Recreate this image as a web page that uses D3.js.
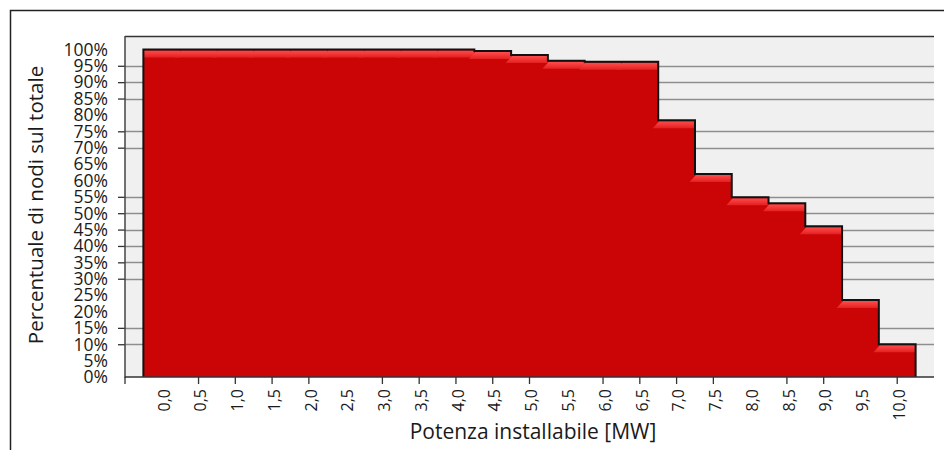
<!DOCTYPE html>
<html>
<head>
<meta charset="utf-8">
<script src="https://cdn.jsdelivr.net/npm/d3@7"></script>
<style>
  html, body { margin: 0; padding: 0; background: #ffffff; }
  svg { display: block; }
  text { font-family: "Open Sans", "DejaVu Sans", sans-serif; fill: #1a1a1a; }
</style>
</head>
<body>
<svg id="chart" width="944" height="450"></svg>
<script>
// ---- data ----
const categories = ["0,0","0,5","1,0","1,5","2,0","2,5","3,0","3,5","4,0","4,5","5,0",
                    "5,5","6,0","6,5","7,0","7,5","8,0","8,5","9,0","9,5","10,0"];
const values = [100,100,100,100,100,100,100,100,100,99.5,98.3,
                96.5,96.2,96.2,78.4,62.0,54.9,53.0,46.0,23.5,10.0];
const yTickValues = [0,5,10,15,20,25,30,35,40,45,50,55,60,65,70,75,80,85,90,95,100];
const yGridValues = [10,15,30,35,40,45,50,55,70,75,85,90,95];
const xTickMarks = ["0,5","1,0","1,5","2,0","3,0","3,5","4,0","4,5","5,0","6,0","6,5",
                    "7,0","7,5","8,5","9,0","10,0"];
const yTitle = "Percentuale di nodi sul totale";
const xTitle = "Potenza installabile [MW]";

// ---- layout ----
const svg = d3.select("#chart");
const pLeft = 125, pRight = 934, pTop = 36, pBottom = 377;

// outer frame
svg.append("rect").attr("x", 10.5).attr("y", 10.5).attr("width", 1000).attr("height", 600)
  .attr("fill", "#fff").attr("stroke", "#222").attr("stroke-width", 1.5);

// plot background
svg.append("rect").attr("x", pLeft).attr("y", pTop).attr("width", pRight - pLeft).attr("height", pBottom - pTop)
  .attr("fill", "#f0f0f0");
svg.append("line").attr("x1", pLeft).attr("x2", pRight).attr("y1", pTop + 0.5).attr("y2", pTop + 0.5)
  .attr("stroke", "#333").attr("stroke-width", 1.5);

const x = d3.scaleBand().domain(categories).range([pLeft, pRight]).paddingInner(0).paddingOuter(0.5);
const y = d3.scaleLinear().domain([0, 100]).range([pBottom, 49.4]);

// gridlines
svg.append("g").selectAll("line").data(yGridValues).join("line")
  .attr("x1", pLeft).attr("x2", pRight)
  .attr("y1", d => Math.round(y(d)) + 0.5).attr("y2", d => Math.round(y(d)) + 0.5)
  .attr("stroke", "#8e8e8e").attr("stroke-width", 1.5);

// y axis
const yAxis = d3.axisLeft(y).tickValues(yGridValues).tickSize(7).tickFormat("");
const gy = svg.append("g").attr("transform", `translate(${pLeft},0)`).call(yAxis);
gy.select(".domain").remove();
gy.selectAll(".tick line").attr("stroke", "#333").attr("stroke-width", 1.3);
svg.append("line").attr("x1", pLeft).attr("x2", pLeft).attr("y1", pTop).attr("y2", pBottom + 1)
  .attr("stroke", "#444").attr("stroke-width", 1.5);

svg.append("g").selectAll("text").data(yTickValues).join("text")
  .attr("x", 108).attr("y", d => y(d)).attr("dy", "0.36em")
  .attr("text-anchor", "end").attr("font-size", 17.5)
  .text(d => d + "%");

// defs: gradient for bevel highlight
const defs = svg.append("defs");
const grad = defs.append("linearGradient").attr("id", "hl").attr("x1", 0).attr("y1", 0).attr("x2", 0).attr("y2", 1);
grad.append("stop").attr("offset", "0%").attr("stop-color", "#ff4c4c");
grad.append("stop").attr("offset", "100%").attr("stop-color", "#e42020");

// bars
const data = categories.map((c, i) => ({ c, v: values[i] }));
const bw = x.bandwidth();

// step outline path (shared by fill underlay, clip and border)
let pathD = `M${x(categories[0])},${pBottom}`;
data.forEach(d => {
  const x0 = x(d.c), x1 = x0 + bw;
  pathD += ` L${x0},${y(d.v)} L${x1},${y(d.v)}`;
});
pathD += ` L${x(categories[categories.length - 1]) + bw},${pBottom}`;

defs.append("clipPath").attr("id", "barsClip").append("path").attr("d", pathD + " Z");

svg.append("path").attr("d", pathD + " Z").attr("fill", "#cb0505");

svg.append("g").selectAll("rect").data(data).join("rect")
  .attr("x", d => x(d.c)).attr("y", d => y(d.v))
  .attr("width", bw + 0.6).attr("height", d => pBottom - y(d.v))
  .attr("fill", "#cb0505").attr("shape-rendering", "crispEdges");

// bevel highlights
svg.append("g").attr("clip-path", "url(#barsClip)")
  .selectAll("path").data(data).join("path")
  .attr("d", d => {
    const x0 = x(d.c), x1 = x0 + bw, yt = y(d.v) + 1;
    return `M${x0 - 5.5},${yt + 7} L${x0 + 1},${yt} L${x1},${yt} L${x1},${yt + 7} Z`;
  })
  .attr("fill", "url(#hl)");

svg.append("path").attr("d", pathD).attr("fill", "none")
  .attr("stroke", "#111").attr("stroke-width", 2).attr("stroke-linejoin", "miter");

// x axis
svg.append("line").attr("x1", pLeft).attr("x2", pRight).attr("y1", pBottom).attr("y2", pBottom)
  .attr("stroke", "#333").attr("stroke-width", 1.5);
const tickPos = [pLeft].concat(xTickMarks.map(c => x(c) + bw / 2));
svg.append("g").selectAll("line").data(tickPos).join("line")
  .attr("x1", d => d).attr("x2", d => d).attr("y1", pBottom).attr("y2", pBottom + 7)
  .attr("stroke", "#333").attr("stroke-width", 1.3);

svg.append("g").selectAll("text").data(categories).join("text")
  .attr("transform", d => `translate(${x(d) + bw / 2 + 2},389) rotate(-90)`)
  .attr("dy", "0.36em").attr("text-anchor", "end").attr("font-size", 16)
  .attr("fill", "#2a2a2a")
  .text(d => d);

// titles
svg.append("text").attr("x", 533).attr("y", 439).attr("text-anchor", "middle")
  .attr("font-size", 21).text(xTitle);
svg.append("text").attr("transform", "translate(43,205) rotate(-90)").attr("text-anchor", "middle")
  .attr("font-size", 20.5).text(yTitle);
</script>
</body>
</html>
